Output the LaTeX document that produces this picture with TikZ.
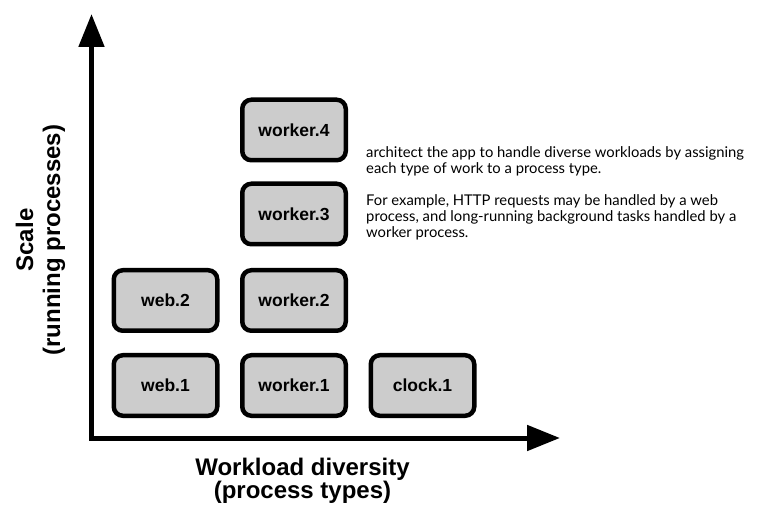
\documentclass[tikz,border=0pt]{standalone}
\usepackage{fontspec}
\setmainfont{Liberation Sans}
\newfontfamily\notefont{Lato}
\usetikzlibrary{arrows.meta}
\newcommand{\axarw}{-{Triangle[length=33pt,width=25pt]}}

\begin{document}
\begin{tikzpicture}[x=1pt,y=-1pt,
  proc/.style={draw,line width=4.5pt,rounded corners=9pt,fill=gray!40,
    minimum width=103.5pt,minimum height=60.5pt,inner sep=0pt,
    font=\bfseries\fontsize{17.5}{20}\selectfont},
  axlabel/.style={inner sep=0pt,align=center,font=\bfseries\fontsize{24}{22}\selectfont}]
\useasboundingbox (0,0) rectangle (763,518);
%axes
\coordinate (origin) at (91.5,438);
\coordinate (ytip) at (91.5,14);
\coordinate (xtip) at (560,438);
\draw[line width=5pt,line cap=rect,\axarw] (origin) -- (ytip);
\draw[line width=5pt,line cap=rect,\axarw] (origin) -- (xtip);
\node[axlabel] (xlabel) at (302.5,480.8) {Workload diversity\\(process types)};
\node[axlabel,rotate=90,font=\bfseries\fontsize{24}{27}\selectfont] (ylabel) at (40.5,240) {Scale\\(running processes)};
%process boxes
\node[proc] (web1) at (165.5,385.5) {web.1};
\node[proc] (web2) at (165.5,300.5) {web.2};
\node[proc] (worker1) at (294,385.5) {worker.1};
\node[proc] (worker2) at (294,300.5) {worker.2};
\node[proc] (worker3) at (294,214) {worker.3};
\node[proc] (worker4) at (294,130) {worker.4};
\node[proc] (clock1) at (422.5,385.5) {clock.1};
%note
\node[anchor=north west,inner sep=0pt,align=left,font=\notefont\fontsize{14.8}{16}\selectfont] (note) at (366,146)
  {architect the app to handle diverse workloads by assigning\\
   each type of work to a process type.\\[16pt]
   For example, HTTP requests may be handled by a web\\
   process, and long-running background tasks handled by a\\
   worker process.};
\end{tikzpicture}
\end{document}
